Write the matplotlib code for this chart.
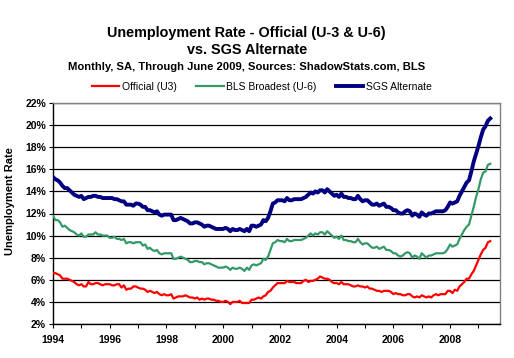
import matplotlib
matplotlib.use("Agg")
import matplotlib.pyplot as plt
from matplotlib.ticker import MultipleLocator
import numpy as np

plt.rcParams['font.family'] = ['Liberation Sans', 'DejaVu Sans']

start_year = 1994
u3 = [6.6, 6.6, 6.5, 6.4, 6.1, 6.1, 6.1, 6.0, 5.9, 5.8, 5.6, 5.5,
      5.6, 5.4, 5.4, 5.8, 5.6, 5.6, 5.7, 5.7, 5.6, 5.5, 5.6, 5.6,
      5.6, 5.5, 5.5, 5.6, 5.6, 5.3, 5.5, 5.1, 5.2, 5.2, 5.4, 5.4,
      5.3, 5.2, 5.2, 5.1, 4.9, 5.0, 4.9, 4.8, 4.9, 4.7, 4.6, 4.7,
      4.6, 4.6, 4.7, 4.3, 4.4, 4.5, 4.5, 4.5, 4.6, 4.5, 4.4, 4.4,
      4.3, 4.4, 4.2, 4.3, 4.2, 4.3, 4.3, 4.2, 4.2, 4.1, 4.1, 4.0,
      4.0, 4.1, 4.0, 3.8, 4.0, 4.0, 4.0, 4.1, 3.9, 3.9, 3.9, 3.9,
      4.2, 4.2, 4.3, 4.4, 4.3, 4.5, 4.6, 4.9, 5.0, 5.3, 5.5, 5.7,
      5.7, 5.7, 5.7, 5.9, 5.8, 5.8, 5.8, 5.7, 5.7, 5.7, 5.9, 6.0,
      5.8, 5.9, 5.9, 6.0, 6.1, 6.3, 6.2, 6.1, 6.1, 6.0, 5.8, 5.7,
      5.7, 5.6, 5.8, 5.6, 5.6, 5.6, 5.5, 5.4, 5.4, 5.5, 5.4, 5.4,
      5.3, 5.4, 5.2, 5.2, 5.1, 5.0, 5.0, 4.9, 5.0, 5.0, 5.0, 4.9,
      4.7, 4.8, 4.7, 4.7, 4.6, 4.6, 4.7, 4.7, 4.5, 4.4, 4.5, 4.4,
      4.6, 4.5, 4.4, 4.5, 4.4, 4.6, 4.7, 4.6, 4.7, 4.7, 4.7, 5.0,
      5.0, 4.8, 5.1, 5.0, 5.4, 5.6, 5.8, 6.1, 6.1, 6.5, 6.8, 7.3,
      7.8, 8.3, 8.7, 8.9, 9.4, 9.5]
u6 = [11.8, 11.4, 11.4, 11.2, 10.8, 10.9, 10.7, 10.5, 10.4, 10.3, 10.1, 10.0,
      10.2, 9.9, 9.9, 10.1, 10.1, 10.1, 10.3, 10.1, 10.1, 10.0, 10.0, 10.0,
      9.8, 9.8, 9.9, 9.7, 9.7, 9.6, 9.7, 9.3, 9.4, 9.4, 9.3, 9.4,
      9.4, 9.4, 9.1, 9.2, 8.8, 8.9, 8.7, 8.6, 8.7, 8.4, 8.3, 8.4,
      8.4, 8.4, 8.4, 7.9, 7.9, 8.0, 8.1, 8.0, 7.9, 7.8, 7.6, 7.6,
      7.7, 7.7, 7.6, 7.6, 7.4, 7.5, 7.5, 7.4, 7.3, 7.2, 7.1, 7.1,
      7.1, 7.2, 7.1, 6.9, 7.1, 7.0, 7.0, 7.1, 7.0, 6.8, 7.1, 6.9,
      7.3, 7.4, 7.3, 7.4, 7.5, 7.9, 7.8, 8.1, 8.7, 9.3, 9.4, 9.6,
      9.5, 9.5, 9.4, 9.7, 9.5, 9.5, 9.6, 9.6, 9.6, 9.6, 9.7, 9.8,
      10.0, 10.2, 10.0, 10.2, 10.1, 10.3, 10.3, 10.1, 10.4, 10.2, 10.0, 9.8,
      9.9, 9.7, 10.0, 9.6, 9.6, 9.5, 9.5, 9.4, 9.4, 9.7, 9.4, 9.2,
      9.3, 9.3, 9.1, 8.9, 8.9, 9.0, 8.8, 8.9, 9.0, 8.7, 8.7, 8.6,
      8.4, 8.4, 8.2, 8.1, 8.2, 8.4, 8.5, 8.4, 8.0, 8.2, 8.1, 7.9,
      8.4, 8.2, 8.0, 8.2, 8.2, 8.3, 8.4, 8.4, 8.4, 8.4, 8.5, 8.8,
      9.2, 9.0, 9.1, 9.2, 9.7, 10.1, 10.5, 10.8, 11.0, 11.8, 12.6, 13.5,
      14.2, 15.1, 15.7, 15.8, 16.4, 16.5]
sgs = [15.3, 15.1, 15.0, 14.8, 14.5, 14.3, 14.3, 14.1, 13.9, 13.7, 13.6, 13.5,
       13.6, 13.3, 13.4, 13.5, 13.5, 13.6, 13.6, 13.5, 13.5, 13.4, 13.4, 13.4,
       13.4, 13.4, 13.3, 13.3, 13.2, 13.1, 13.1, 12.8, 12.8, 12.8, 12.7, 12.9,
       12.9, 12.8, 12.6, 12.6, 12.3, 12.3, 12.2, 12.1, 12.2, 11.9, 11.8, 11.9,
       11.9, 11.9, 11.9, 11.4, 11.4, 11.5, 11.6, 11.5, 11.4, 11.3, 11.1, 11.1,
       11.2, 11.2, 11.1, 11.0, 10.8, 10.9, 10.9, 10.8, 10.7, 10.6, 10.6, 10.6,
       10.6, 10.7, 10.6, 10.4, 10.6, 10.5, 10.5, 10.6, 10.5, 10.4, 10.6, 10.4,
       10.9, 10.9, 10.8, 10.9, 11.0, 11.4, 11.3, 11.6, 12.2, 12.9, 13.0, 13.2,
       13.2, 13.2, 13.1, 13.4, 13.2, 13.2, 13.3, 13.3, 13.3, 13.3, 13.4, 13.5,
       13.7, 13.9, 13.8, 14.0, 13.9, 14.1, 14.1, 13.9, 14.2, 14.0, 13.8, 13.6,
       13.7, 13.5, 13.8, 13.5, 13.5, 13.4, 13.4, 13.3, 13.3, 13.6, 13.3, 13.1,
       13.2, 13.2, 13.0, 12.8, 12.8, 12.9, 12.7, 12.8, 12.9, 12.6, 12.6, 12.5,
       12.3, 12.3, 12.1, 12.0, 12.0, 12.2, 12.3, 12.2, 11.8, 12.0, 11.9, 11.7,
       12.1, 11.9, 11.8, 12.0, 12.0, 12.1, 12.2, 12.2, 12.2, 12.2, 12.3, 12.6,
       13.0, 12.9, 13.0, 13.1, 13.6, 14.0, 14.4, 14.8, 15.0, 15.8, 16.7, 17.4,
       18.1, 18.9, 19.6, 19.9, 20.4, 20.6]
year_ticks = [1994, 1996, 1998, 2000, 2002, 2004, 2006, 2008]
y_ticks = [2, 4, 6, 8, 10, 12, 14, 16, 18, 20, 22]

t = start_year + np.arange(len(u3)) / 12.0

fig = plt.figure(figsize=(5.14, 3.58), dpi=100)
ax = fig.add_axes([53/514, 34/358, 447/514, 221/358])

ax.plot(t, u3, color='#FF0000', lw=1.6, label='Official (U3)', zorder=3)
ax.plot(t, u6, color='#339966', lw=1.6, label='BLS Broadest (U-6)', zorder=3)
ax.plot(t, sgs, color='#000080', lw=2.8, label='SGS Alternate', zorder=4)

ax.set_xlim(1994, 2009.76)
ax.set_ylim(2, 22)
ax.set_yticks(y_ticks)
ax.set_yticklabels([f'{v}%' for v in y_ticks], fontsize=7.5, fontweight='bold')
ax.set_xticks(year_ticks)
ax.set_xticklabels([str(y) for y in year_ticks], fontsize=7.5, fontweight='bold')
ax.xaxis.set_minor_locator(MultipleLocator(1))
ax.tick_params(axis='x', which='both', direction='out', length=3, width=0.8, pad=5)
ax.tick_params(axis='y', direction='out', length=3, width=0.8, pad=2)
ax.grid(axis='y', color='black', lw=0.9, zorder=1)
ax.set_axisbelow(True)
for s in ['left', 'bottom']:
    ax.spines[s].set_color('black')
    ax.spines[s].set_linewidth(1)
for s in ['top', 'right']:
    ax.spines[s].set_color('#808080')
    ax.spines[s].set_linewidth(1)

ax.set_ylabel('Unemployment Rate', fontsize=8, fontweight='bold')
ax.yaxis.set_label_coords(-0.085, 0.555)

fig.text(0.48, 1 - 33/358, 'Unemployment Rate - Official (U-3 & U-6)', ha='center', va='center',
         fontsize=10.4, fontweight='bold')
fig.text(0.48, 1 - 50/358, 'vs. SGS Alternate', ha='center', va='center',
         fontsize=10.4, fontweight='bold')
fig.text(0.48, 1 - 67/358, 'Monthly, SA, Through June 2009, Sources: ShadowStats.com, BLS',
         ha='center', va='center', fontsize=8.1, fontweight='bold')

fig.legend(loc='center', bbox_to_anchor=(262/514, 1 - 87/358), ncol=3, frameon=False,
           fontsize=7.5, handlelength=2.6, handletextpad=0.25, columnspacing=1.9,
           borderpad=0, borderaxespad=0)

fig.savefig('out.png', dpi=100)
